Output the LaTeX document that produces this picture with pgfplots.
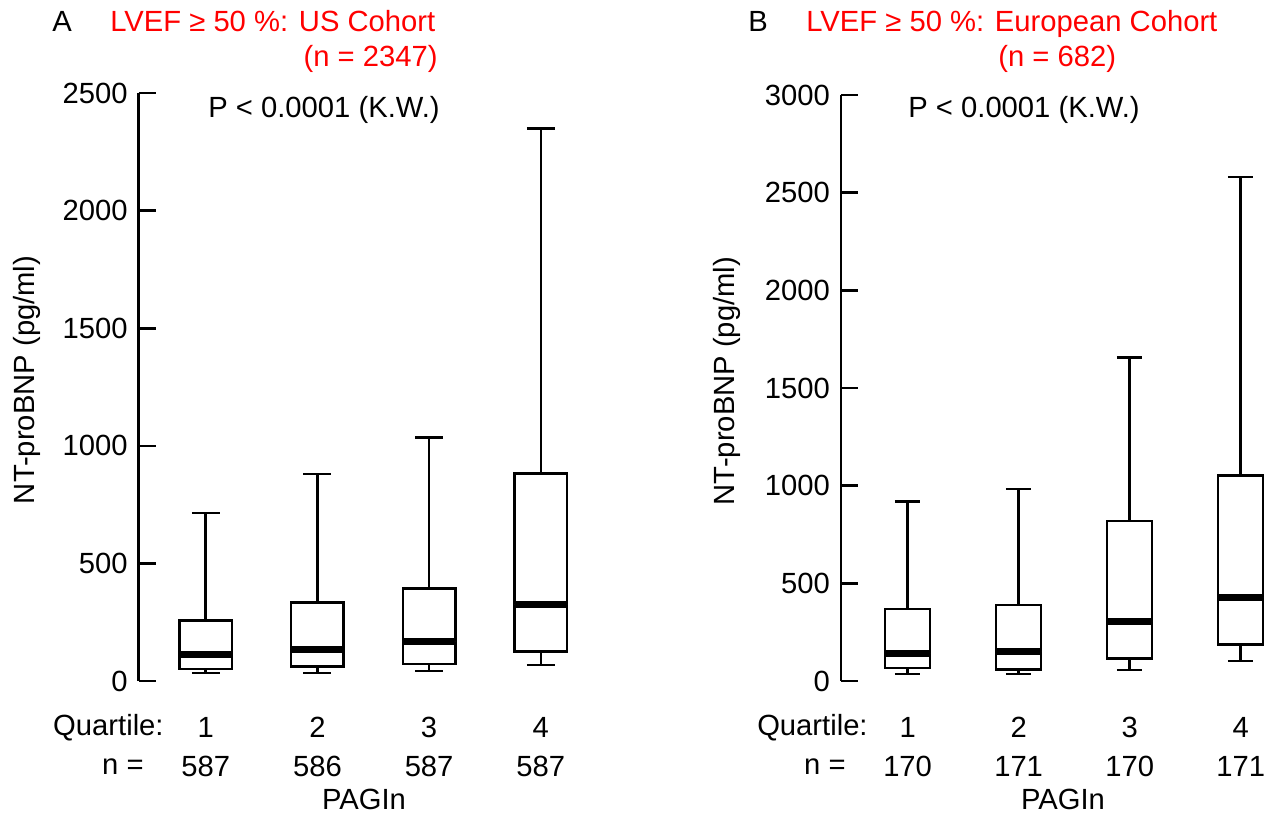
\documentclass[border=0pt]{standalone}
\usepackage{pgfplots}
\pgfplotsset{compat=1.18}
\usepgfplotslibrary{statistics}
\usepackage{fontspec}
\setmainfont{Liberation Sans}
\definecolor{titlered}{RGB}{255,0,0}
\begin{document}
\begin{tikzpicture}
\useasboundingbox (0,0) rectangle (636.5pt,407pt);
\pgfplotsset{
  mystyle/.style={
    scale only axis,
    axis lines=left,
    x axis line style={draw=none},
    y axis line style={-, line width=1.3pt},
    xtick={1,2,3,4},
    xtick style={draw=none},
    ytick style={line width=1.3pt, black},
    tick align=inside,
    major tick length=8.5pt,
    ymin=0,
    clip=false,
    tick label style={font=\fontsize{14.6}{19.5}\selectfont},
    label style={font=\fontsize{14.6}{17}\selectfont},
    /pgf/number format/assume math mode=true,
    /pgf/number format/1000 sep={},
    x tick label style={align=center, yshift=-14.5pt},
    y tick label style={xshift=-2pt},
    boxplot/draw direction=y,
    boxplot/every median/.style={line width=3.5pt},
    ylabel={NT-proBNP (pg/ml)},
  },
  bx/.style={black, line width=1.25pt, solid, mark=none, fill=white},
}
% Panel A
\begin{axis}[mystyle,
  at={(69.35pt,66.5pt)}, anchor=south west,
  width=223.4pt, height=294pt,
  xmin=0.4, xmax=4.4, ymax=2500,
  ytick={0,500,1000,1500,2000,2500},
  xticklabels={1\\587,2\\586,3\\587,4\\587},
  ylabel style={at={(axis description cs:-0.25,0.512)}, anchor=center},
  boxplot/box extend=0.47, boxplot/whisker extend=0.25]
\addplot[bx, boxplot prepared={draw position=1, lower whisker=35, lower quartile=52, median=111, upper quartile=257, upper whisker=715}] coordinates {};
\addplot[bx, boxplot prepared={draw position=2, lower whisker=35, lower quartile=61, median=136, upper quartile=333, upper whisker=880}] coordinates {};
\addplot[bx, boxplot prepared={draw position=3, lower whisker=42, lower quartile=72, median=170, upper quartile=394, upper whisker=1035}] coordinates {};
\addplot[bx, boxplot prepared={draw position=4, lower whisker=67, lower quartile=126, median=325, upper quartile=883, upper whisker=2349}] coordinates {};
\end{axis}
% Panel B
\begin{axis}[mystyle,
  at={(420.5pt,66.5pt)}, anchor=south west,
  width=213.7pt, height=293pt,
  xmin=0.4, xmax=4.25, ymax=3000,
  ytick={0,500,1000,1500,2000,2500,3000},
  xticklabels={1\\170,2\\171,3\\170,4\\171},
  ylabel style={at={(axis description cs:-0.267,0.512)}, anchor=center},
  boxplot/box extend=0.405, boxplot/whisker extend=0.23]
\addplot[bx, boxplot prepared={draw position=1, lower whisker=36, lower quartile=67, median=143, upper quartile=369, upper whisker=918}] coordinates {};
\addplot[bx, boxplot prepared={draw position=2, lower whisker=36, lower quartile=59, median=153, upper quartile=390, upper whisker=983}] coordinates {};
\addplot[bx, boxplot prepared={draw position=3, lower whisker=57, lower quartile=115, median=307, upper quartile=820, upper whisker=1657}] coordinates {};
\addplot[bx, boxplot prepared={draw position=4, lower whisker=103, lower quartile=188, median=430, upper quartile=1052, upper whisker=2580}] coordinates {};
\end{axis}
\begin{scope}[every node/.style={font=\fontsize{14.6}{17}\selectfont, inner sep=0pt}]
\node[anchor=base] at (31pt,391.25pt) {A};
\node[anchor=base west, text=titlered] at (55pt,391.25pt) {LVEF ≥ 50 \%: US Cohort};
\node[anchor=base east, text=titlered] at (219pt,373.5pt) {(n = 2347)};
\node[anchor=base west] at (104pt,348.25pt) {P < 0.0001 (K.W.)};
\node[anchor=base east] at (82pt,39.5pt) {Quartile:};
\node[anchor=base east] at (72pt,20pt) {n =};
\node[anchor=base] at (182pt,2.5pt) {PAGIn};
\node[anchor=base] at (379pt,391.25pt) {B};
\node[anchor=base west, text=titlered] at (403pt,391.25pt) {LVEF ≥ 50 \%: European Cohort};
\node[anchor=base west, text=titlered] at (499pt,373.5pt) {(n = 682)};
\node[anchor=base west] at (454pt,348.25pt) {P < 0.0001 (K.W.)};
\node[anchor=base east] at (434pt,39.5pt) {Quartile:};
\node[anchor=base east] at (423pt,20pt) {n =};
\node[anchor=base] at (531.5pt,2.5pt) {PAGIn};
\end{scope}
\end{tikzpicture}
\end{document}
